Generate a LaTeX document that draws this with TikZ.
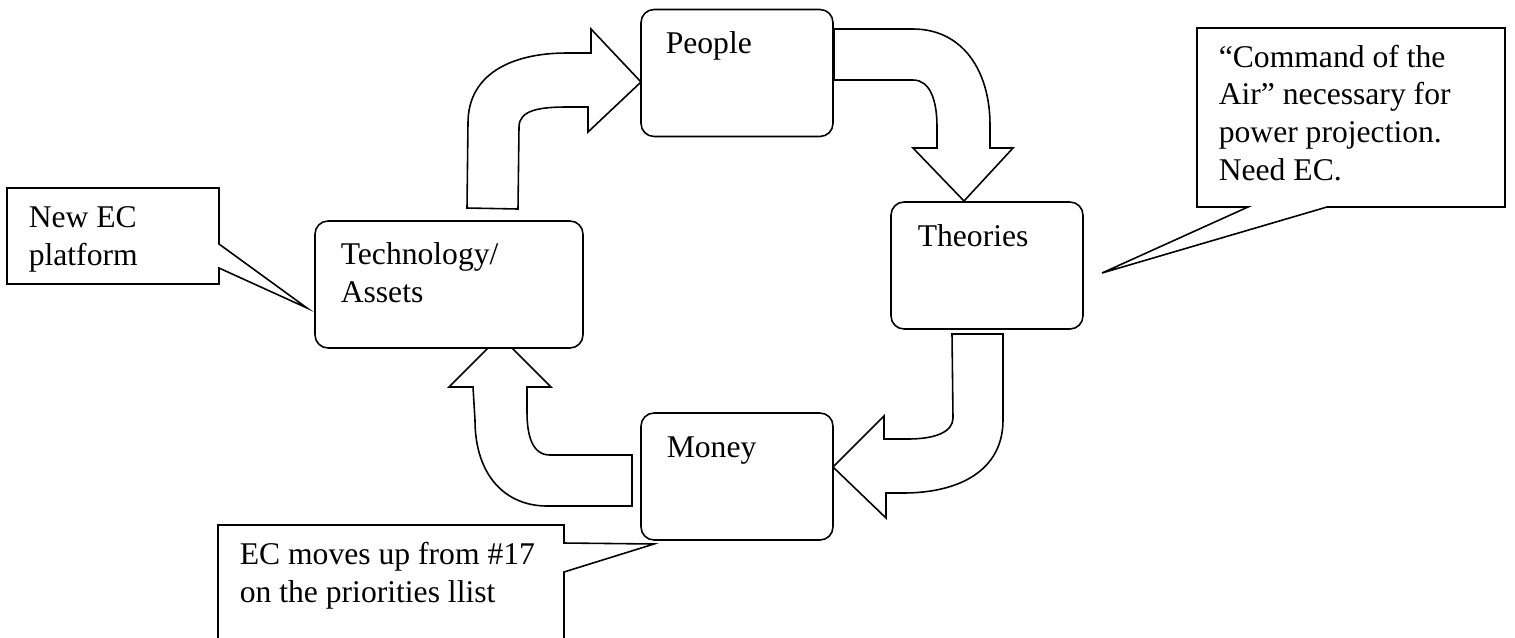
\documentclass[tikz,border=0pt]{standalone}
\usepackage{fontspec}
\setmainfont{Liberation Serif}
\begin{document}
\begin{tikzpicture}[x=0.02cm,y=-0.02cm,line width=0.9pt,
  every node/.style={font=\fontsize{18}{21.4}\selectfont},
  stage/.style={draw,fill=white,rounded corners=0.26cm,minimum width=3.84cm,minimum height=2.54cm,inner sep=0pt},
  txt/.style={anchor=base west,inner sep=0pt,align=left},
  bentarrow/.style={draw,fill=white,line join=miter},
  note/.style={draw,fill=white,line join=miter}]
\useasboundingbox (0,0) rectangle (1515,637);
\clip (0,0) rectangle (1515,637);
\draw[bentarrow] (467,208) -- (468,123) .. controls (468,75) and (510,53) .. (567,53) -- (591,53) -- (591,29) -- (641,82) -- (588,132) -- (588,107) -- (567,107) .. controls (540,107) and (519,110) .. (519,127) -- (518,209) -- cycle;
\draw[bentarrow] (834,29) -- (913,29) .. controls (962,29) and (990,70) .. (990,125) -- (990,148) -- (1013,148) -- (964,201) -- (913,148) -- (937,148) -- (937,127) .. controls (937,100) and (930,80) .. (913,80) -- (834,80) -- cycle;
\draw[bentarrow] (952,334) -- (1003,334) -- (1003,420) .. controls (1003,470) and (960,493) .. (903,493) -- (886,493) -- (886,518) -- (833,467) -- (884,416) -- (884,439) -- (908,439) .. controls (935,439) and (953,432) .. (953,418) -- cycle;
\draw[bentarrow] (632,455) -- (632,506) -- (547,506) .. controls (505,506) and (475,475) .. (475,420) -- (473,387) -- (449,387) -- (500,336) -- (551,387) -- (527,387) -- (527,412) .. controls (527,435) and (532,455) .. (550,455) -- cycle;
\node[stage] (people) at (737,73) {};
\node[stage] (theories) at (987,265.5) {};
\node[stage,minimum width=5.36cm] (tech) at (449,284.5) {};
\node[stage] (money) at (737,476.5) {};
\node[txt] (peopletxt) at (665,53) {People};
\node[txt] (theoriestxt) at (917,246) {Theories};
\node[txt] (techtxt) at (340,302) {Technology/\\Assets};
\node[txt] (moneytxt) at (666,457) {Money};
\draw[note] (7,188) -- (219,188) -- (219,244) -- (307,308) -- (219,268) -- (219,284) -- (7,284) -- cycle;
\draw[note] (1197,28) -- (1505,28) -- (1505,207) -- (1327,207) -- (1102,273) -- (1248,207) -- (1197,207) -- cycle;
\draw[note] (218,525) -- (564,525) -- (564,543) -- (654,544) -- (564,572) -- (564,660) -- (218,660) -- cycle;
\node[txt] (platform) at (28,265) {New EC\\platform};
\node[txt] (command) at (1218,180) {``Command of the\\Air'' necessary for\\power projection.\\Need EC.};
\node[txt] (priority) at (239,602) {EC moves up from \#17\\on the priorities llist};
\end{tikzpicture}
\end{document}
